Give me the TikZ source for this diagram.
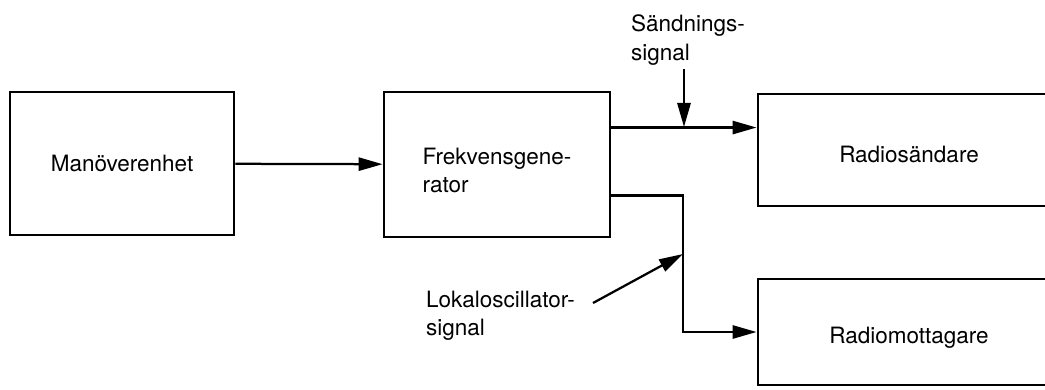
\documentclass[tikz,border=0pt]{standalone}
\usepackage{fontspec}
\setmainfont{TeX Gyre Heros}
\usetikzlibrary{arrows.meta, positioning, calc}
\tikzset{
  every picture/.style={line width=1.6pt},
  blk/.style={draw, line width=2pt, align=left, inner sep=0pt},
  arrow/.style={-{Triangle[length=6mm, width=3.3mm]}, line width=1.6pt},
  lbl/.style={align=left, inner sep=0pt},
}

\begin{document}
\begin{tikzpicture}[x=0.025cm, y=-0.025cm, every node/.append style={font=\fontsize{16}{20}\selectfont}]
  \clip (0,0) rectangle (1045,389);
  % blocks
  \node[blk, minimum width=5.6cm, minimum height=3.575cm] (man) at (122,163.5) {Manöverenhet};
  \node[blk, minimum width=5.65cm, minimum height=3.625cm, text height=40pt] (frek) at (497,164.5) {Frekvensgene-\\rator};
  \node[blk, minimum width=7.55cm, minimum height=2.8cm, text height=18pt] (send) at (909,150) {Radiosändare};
  \node[blk, minimum width=7.55cm, minimum height=2.65cm, text height=20pt] (mott) at (909,332) {Radiomottagare};
  % labels
  \node[lbl, anchor=north west] (sl) at (630,14) {Sändnings-\\signal};
  \node[lbl, anchor=north west] (ll) at (425,290) {Lokaloscillator-\\signal};
  % points on the lines
  \coordinate (fo) at ($(frek.north east)!0.25!(frek.south east)$);
  \coordinate (fl) at ($(frek.north east)!0.71!(frek.south east)$);
  \coordinate (sp) at (684,127);
  \coordinate (jn) at (683,254);
  \coordinate (lo) at (593,303);
  % connectors
  \draw[arrow] (man) -- (frek);
  \draw[arrow] (fo) -- (fo -| send.west);
  \draw[arrow] (fl) -| (jn) |- (mott.west);
  \draw[arrow] ([yshift=-2pt]sl.south -| sp) -- (sp);
  \draw[arrow] (lo) -- (jn);
\end{tikzpicture}
\end{document}
